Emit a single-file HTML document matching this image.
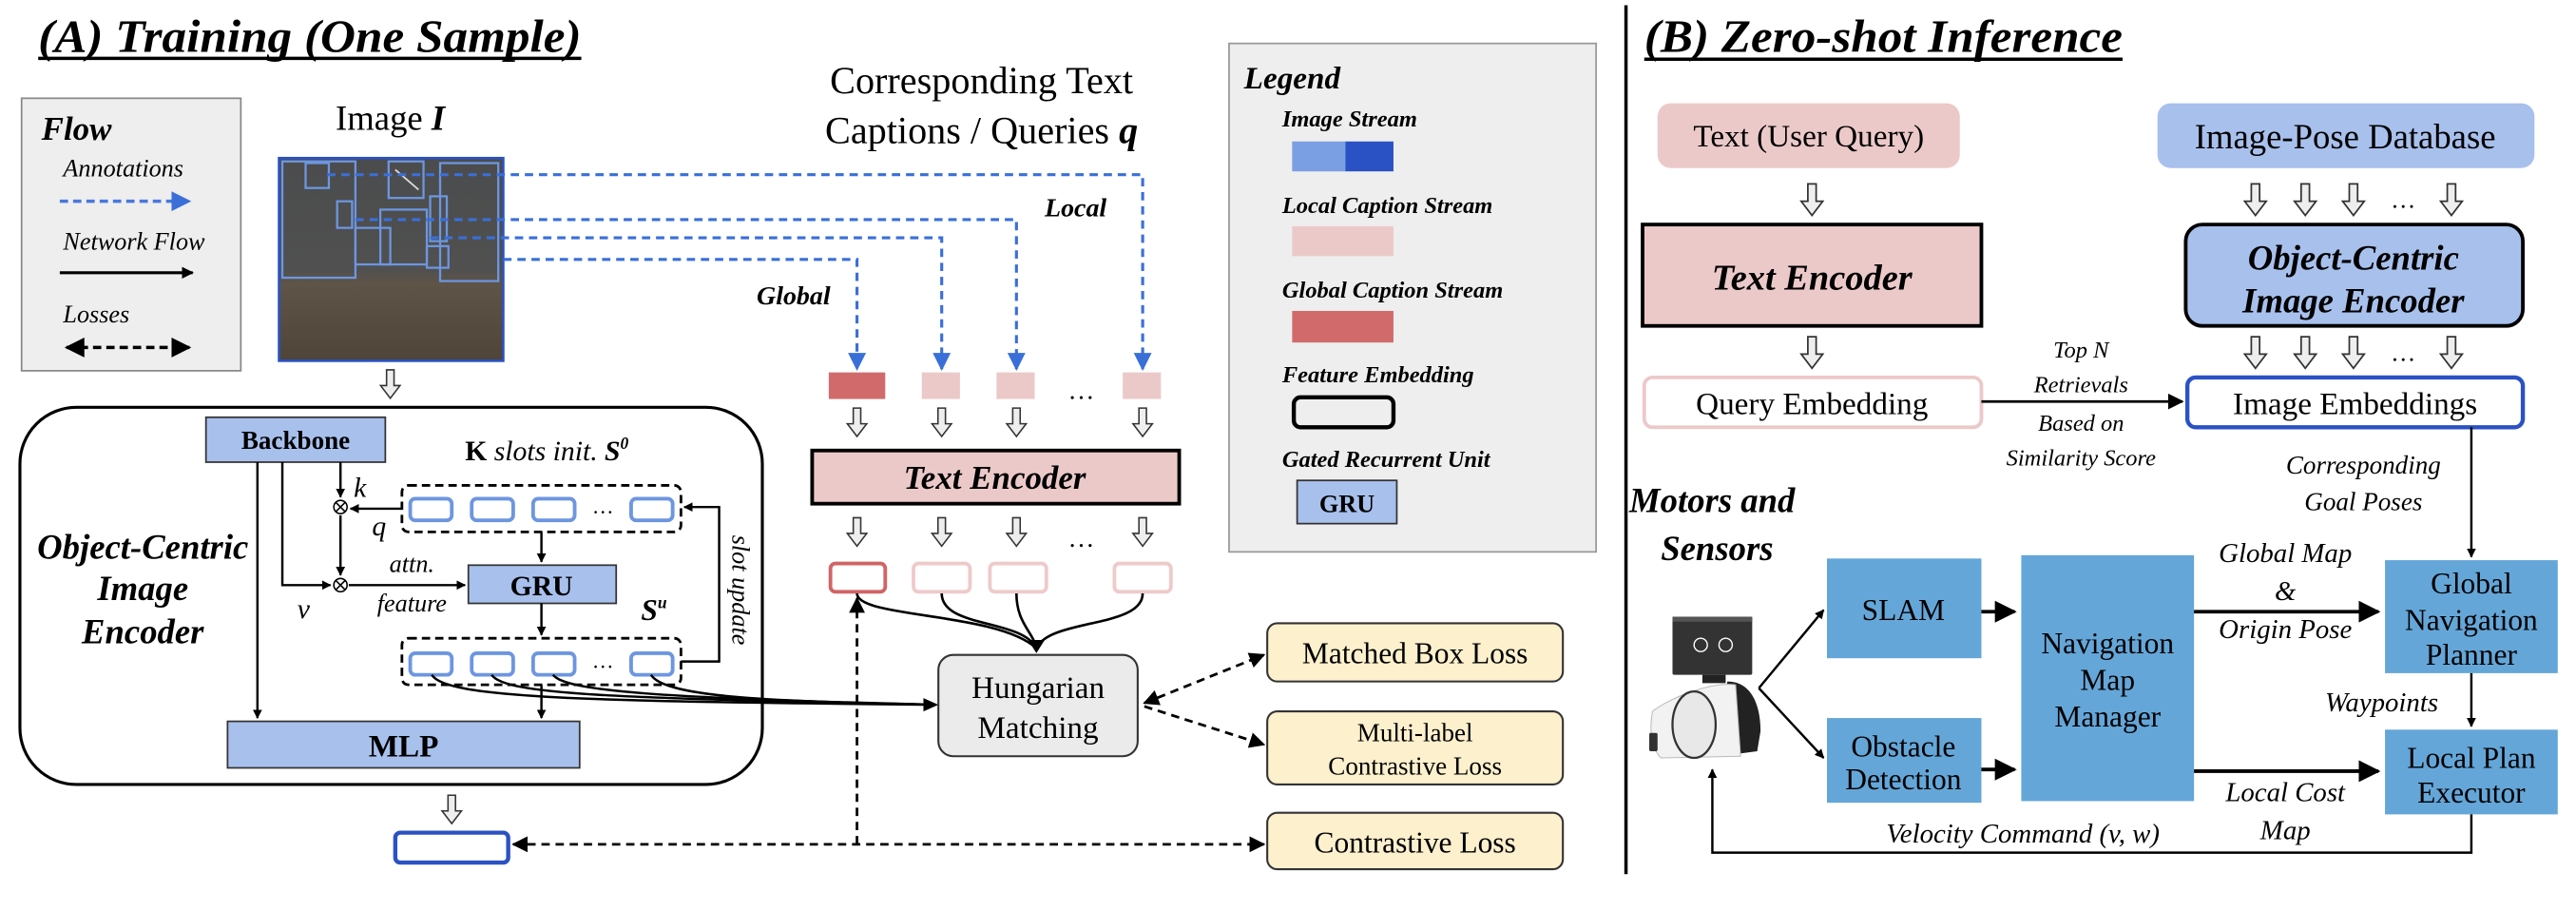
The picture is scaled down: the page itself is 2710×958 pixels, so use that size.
<!DOCTYPE html>
<html><head><meta charset="utf-8"><style>
html,body{margin:0;padding:0;background:#fff}
svg{display:block;font-family:"Liberation Serif","DejaVu Serif","Times New Roman",Times,serif}
svg text, svg tspan{font-family:"Liberation Serif","DejaVu Serif","Times New Roman",Times,serif}
.bi{font-weight:bold;font-style:italic}
.i{font-style:italic}
.b{font-weight:bold}
</style></head><body>
<svg width="2710" height="958" viewBox="0 0 1551 548" xmlns="http://www.w3.org/2000/svg" font-family="'Liberation Serif', 'DejaVu Serif', serif">
<defs>
<symbol id="ha" viewBox="0 0 14 20" overflow="visible"><path d="M4.5,0.5 H9.5 V11 H13.5 L7,19.5 L0.5,11 H4.5 Z" fill="#eee" stroke="#333" stroke-width="1"/></symbol>
<marker id="ab" viewBox="0 0 10 10" refX="9" refY="5" markerWidth="6" markerHeight="6" orient="auto-start-reverse"><path d="M0,0 L10,5 L0,10 z" fill="#3a6fd8"/></marker>
<marker id="ak" viewBox="0 0 10 10" refX="9" refY="5" markerWidth="6" markerHeight="6" orient="auto-start-reverse"><path d="M0,0 L10,5 L0,10 z" fill="#000"/></marker>
<marker id="ak2" viewBox="0 0 10 10" refX="9" refY="5" markerWidth="4" markerHeight="4" orient="auto-start-reverse"><path d="M0,0 L10,5 L0,10 z" fill="#000"/></marker>
</defs>

<text x="23" y="31" class="bi" font-size="28" textLength="327" lengthAdjust="spacingAndGlyphs">(A) Training (One Sample)</text>
<line x1="23" y1="35" x2="350" y2="35" stroke="#000" stroke-width="2"/>

<rect x="13" y="59" width="132" height="164" fill="#eee" stroke="#888" stroke-width="1"/>
<text x="25" y="84" class="bi" font-size="20">Flow</text>
<text x="38" y="106" class="i" font-size="15">Annotations</text>
<line x1="36" y1="121" x2="114" y2="121" stroke="#4a78dc" stroke-width="2" stroke-dasharray="5,3" marker-end="url(#ab)"/>
<text x="38" y="150" class="i" font-size="15">Network Flow</text>
<line x1="36" y1="164" x2="116" y2="164" stroke="#000" stroke-width="1.8" marker-end="url(#ak2)"/>
<text x="38" y="194" class="i" font-size="15">Losses</text>
<line x1="40" y1="209" x2="114" y2="209" stroke="#000" stroke-width="2" stroke-dasharray="5,3" marker-start="url(#ak)" marker-end="url(#ak)"/>

<text x="235" y="78" font-size="21" text-anchor="middle">Image <tspan class="bi">I</tspan></text>
<defs><linearGradient id="img" x1="0" y1="0" x2="0" y2="1"><stop offset="0" stop-color="#4b4c4d"/><stop offset="0.55" stop-color="#505050"/><stop offset="0.62" stop-color="#5e5447"/><stop offset="1" stop-color="#4e4438"/></linearGradient></defs>
<rect x="168" y="95" width="135" height="122" fill="url(#img)" stroke="#2b52c4" stroke-width="1.5"/>
<g fill="none" stroke="#6d96e0" stroke-width="1.3">
<rect x="170" y="97" width="44" height="70"/>
<rect x="184" y="98" width="14" height="15"/>
<rect x="234" y="97" width="21" height="22"/>
<rect x="265" y="98" width="35" height="71"/>
<rect x="203" y="121" width="9" height="16"/>
<rect x="229" y="126" width="28" height="33"/>
<rect x="214" y="137" width="21" height="22"/>
<rect x="259" y="118" width="10" height="27"/>
<rect x="257" y="148" width="13" height="13"/>
</g>
<line x1="238" y1="102" x2="252" y2="114" stroke="#ddd" stroke-width="1"/>

<g fill="none" stroke="#3a6fd8" stroke-width="1.8" stroke-dasharray="5,3.5">
<path d="M197,105 H688 V222" marker-end="url(#ab)"/>
<path d="M214,132 H612 V222" marker-end="url(#ab)"/>
<path d="M259,143 H567 V222" marker-end="url(#ab)"/>
<path d="M303,156 H516 V222" marker-end="url(#ab)"/>
</g>
<text x="629" y="130" class="bi" font-size="16">Local</text>
<text x="500" y="183" class="bi" font-size="16" text-anchor="end">Global</text>

<text x="591" y="56" font-size="23" text-anchor="middle">Corresponding Text</text>
<text x="591" y="86" font-size="23" text-anchor="middle">Captions / Queries <tspan class="bi">q</tspan></text>

<rect x="499" y="224" width="34" height="16" fill="#d16b6b"/>
<rect x="555" y="224" width="23" height="16" fill="#ecc9c9"/>
<rect x="600" y="224" width="23" height="16" fill="#ecc9c9"/>
<rect x="676" y="224" width="23" height="16" fill="#ecc9c9"/>
<text x="651" y="240" font-size="16" text-anchor="middle">…</text>
<use href="#ha" x="509" y="245" width="14" height="18"/>
<use href="#ha" x="560" y="245" width="14" height="18"/>
<use href="#ha" x="605" y="245" width="14" height="18"/>
<use href="#ha" x="681" y="245" width="14" height="18"/>

<rect x="489" y="271" width="221" height="32" fill="#ecc9c9" stroke="#000" stroke-width="2.2"/>
<text x="599" y="294" class="bi" font-size="20" text-anchor="middle">Text Encoder</text>

<use href="#ha" x="509" y="311" width="14" height="18"/>
<use href="#ha" x="560" y="311" width="14" height="18"/>
<use href="#ha" x="605" y="311" width="14" height="18"/>
<use href="#ha" x="681" y="311" width="14" height="18"/>
<text x="651" y="329" font-size="16" text-anchor="middle">…</text>

<rect x="500" y="339" width="33" height="17" rx="3" fill="#fff" stroke="#d06565" stroke-width="2.2"/>
<rect x="550" y="339" width="34" height="17" rx="3" fill="#fff" stroke="#efcaca" stroke-width="2.2"/>
<rect x="596" y="339" width="34" height="17" rx="3" fill="#fff" stroke="#efcaca" stroke-width="2.2"/>
<rect x="671" y="339" width="34" height="17" rx="3" fill="#fff" stroke="#efcaca" stroke-width="2.2"/>

<g fill="none" stroke="#000" stroke-width="1.5">
<path d="M516,357 C516,372 600,368 624,390"/>
<path d="M567,357 C567,378 615,372 624,390"/>
<path d="M612,357 C612,375 622,380 624,390"/>
<path d="M688,357 C688,378 632,372 624,390"/>
</g>
<path d="M619,385 L624,393 L629,385 z" fill="#000"/>

<rect x="565" y="394" width="120" height="61" rx="9" fill="#ebebeb" stroke="#333" stroke-width="1.2"/>
<text x="625" y="420" font-size="19" text-anchor="middle">Hungarian</text>
<text x="625" y="444" font-size="19" text-anchor="middle">Matching</text>

<rect x="763" y="375" width="178" height="35" rx="6" fill="#fcf0cd" stroke="#333" stroke-width="1.2"/>
<text x="852" y="399" font-size="18" text-anchor="middle">Matched Box Loss</text>
<rect x="763" y="428" width="178" height="44" rx="6" fill="#fcf0cd" stroke="#333" stroke-width="1.2"/>
<text x="852" y="446" font-size="15.5" text-anchor="middle">Multi-label</text>
<text x="852" y="466" font-size="15.5" text-anchor="middle">Contrastive Loss</text>
<rect x="763" y="489" width="178" height="34" rx="6" fill="#fcf0cd" stroke="#333" stroke-width="1.2"/>
<text x="852" y="513" font-size="18" text-anchor="middle">Contrastive Loss</text>

<g fill="none" stroke="#000" stroke-width="1.6" stroke-dasharray="5,3.5">
<path d="M689,423 L761,394" marker-start="url(#ak)" marker-end="url(#ak)"/>
<path d="M689,425 L761,448" marker-end="url(#ak)"/>
<path d="M309,508 H761" marker-start="url(#ak)" marker-end="url(#ak)"/>
<path d="M516,508 V360" marker-end="url(#ak)"/>
</g>

<use href="#ha" x="228" y="222" width="14" height="18"/>
<rect x="12" y="245" width="447" height="227" rx="34" fill="none" stroke="#000" stroke-width="1.8"/>
<rect x="124" y="251" width="108" height="27" fill="#a8c0ec" stroke="#333" stroke-width="1"/>
<text x="178" y="270" class="b" font-size="15.5" text-anchor="middle">Backbone</text>
<text x="280" y="277" font-size="17"><tspan class="b">K</tspan><tspan class="i"> slots init. </tspan><tspan class="bi">S</tspan><tspan class="bi" font-size="10" dy="-7">0</tspan></text>

<text x="86" y="336" class="bi" font-size="21" text-anchor="middle">Object-Centric</text>
<text x="86" y="361" class="bi" font-size="21" text-anchor="middle">Image</text>
<text x="86" y="387" class="bi" font-size="21" text-anchor="middle">Encoder</text>

<rect x="242" y="292" width="168" height="28" rx="4" fill="none" stroke="#000" stroke-width="1.6" stroke-dasharray="5,3"/>
<rect x="242" y="384" width="168" height="28" rx="4" fill="none" stroke="#000" stroke-width="1.6" stroke-dasharray="5,3"/>
<g fill="#fff" stroke="#6d96e0" stroke-width="2.2">
<rect x="247" y="300" width="25" height="13" rx="3"/><rect x="284" y="300" width="25" height="13" rx="3"/><rect x="321" y="300" width="25" height="13" rx="3"/><rect x="380" y="300" width="25" height="13" rx="3"/>
<rect x="247" y="393" width="25" height="13" rx="3"/><rect x="284" y="393" width="25" height="13" rx="3"/><rect x="321" y="393" width="25" height="13" rx="3"/><rect x="380" y="393" width="25" height="13" rx="3"/>
</g>
<text x="363" y="309" font-size="13" text-anchor="middle">…</text>
<text x="363" y="402" font-size="13" text-anchor="middle">…</text>

<rect x="282" y="340" width="89" height="23" fill="#a8c0ec" stroke="#333" stroke-width="1"/>
<text x="326" y="358" class="b" font-size="17" text-anchor="middle">GRU</text>
<text x="386" y="373" class="bi" font-size="18">S<tspan font-size="10" dy="-7">u</tspan></text>

<rect x="137" y="434" width="212" height="28" fill="#a8c0ec" stroke="#333" stroke-width="1"/>
<text x="243" y="455" class="b" font-size="19" text-anchor="middle">MLP</text>

<g fill="none" stroke="#000" stroke-width="1.4">
<path d="M155,278 V432" marker-end="url(#ak2)"/>
<path d="M170,278 V352 H199" marker-end="url(#ak2)"/>
<path d="M205,278 V299" marker-end="url(#ak2)"/>
<path d="M205,310 V346" marker-end="url(#ak2)"/>
<path d="M242,306 H211" marker-end="url(#ak2)"/>
<path d="M210,352 H280" marker-end="url(#ak2)"/>
<path d="M326,320 V338" marker-end="url(#ak2)"/>
<path d="M326,363 V382" marker-end="url(#ak2)"/>
<path d="M326,412 V432" marker-end="url(#ak2)"/>
<path d="M410,398 H433 V305 H412" marker-end="url(#ak2)"/>
</g>
<g fill="#fff" stroke="#000" stroke-width="0.9">
<circle cx="205" cy="305" r="4"/><path d="M202.2,302.2 L207.8,307.8 M207.8,302.2 L202.2,307.8"/>
<circle cx="205" cy="352" r="4"/><path d="M202.2,349.2 L207.8,354.8 M207.8,349.2 L202.2,354.8"/>
</g>
<text x="213" y="299" class="i" font-size="17">k</text>
<text x="224" y="322" class="i" font-size="17">q</text>
<text x="248" y="344" class="i" font-size="15" text-anchor="middle">attn.</text>
<text x="248" y="368" class="i" font-size="15" text-anchor="middle">feature</text>
<text x="179" y="372" class="i" font-size="17">v</text>
<text x="441" y="355" class="i" font-size="15" text-anchor="middle" transform="rotate(90 441 355)">slot update</text>

<g fill="none" stroke="#000" stroke-width="1.4">
<path d="M260,406 C268,420 350,422 563,424"/>
<path d="M296,406 C304,418 370,420 563,424"/>
<path d="M333,406 C340,416 400,420 563,424"/>
<path d="M392,406 C400,420 470,422 563,424"/>
</g>
<path d="M556,420 L565,424 L556,428 z" fill="#000"/>

<use href="#ha" x="265" y="478" width="14" height="18"/>
<rect x="238" y="501" width="68" height="18" rx="3" fill="#fff" stroke="#2b52c4" stroke-width="2.5"/>

<rect x="740" y="26" width="221" height="306" fill="#eee" stroke="#999" stroke-width="1"/>
<text x="749" y="53" class="bi" font-size="19">Legend</text>
<text x="772" y="76" class="bi" font-size="14">Image Stream</text>
<rect x="778" y="85" width="32" height="18" fill="#7a9fe3"/><rect x="810" y="85" width="29" height="18" fill="#2b52c4"/>
<text x="772" y="128" class="bi" font-size="14">Local Caption Stream</text>
<rect x="778" y="136" width="61" height="18" fill="#ecc9c9"/>
<text x="772" y="179" class="bi" font-size="14">Global Caption Stream</text>
<rect x="778" y="187" width="61" height="19" fill="#d16b6b"/>
<text x="772" y="230" class="bi" font-size="14">Feature Embedding</text>
<rect x="779" y="239" width="60" height="18" rx="4" fill="#eee" stroke="#000" stroke-width="2.5"/>
<text x="772" y="281" class="bi" font-size="14">Gated Recurrent Unit</text>
<rect x="781" y="289" width="60" height="26" fill="#a8c0ec" stroke="#333" stroke-width="1"/>
<text x="811" y="308" class="b" font-size="15" text-anchor="middle">GRU</text>

<line x1="979" y1="3" x2="979" y2="526" stroke="#000" stroke-width="2"/>

<text x="990" y="31" class="bi" font-size="28" textLength="288" lengthAdjust="spacingAndGlyphs">(B) Zero-shot Inference</text>
<line x1="990" y1="35.5" x2="1278" y2="35.5" stroke="#000" stroke-width="2"/>

<rect x="998" y="62" width="182" height="39" rx="8" fill="#ecc9c9"/>
<text x="1089" y="88" font-size="19" text-anchor="middle">Text (User Query)</text>
<rect x="1299" y="62" width="227" height="39" rx="8" fill="#a8c0ec"/>
<text x="1412" y="89" font-size="21" text-anchor="middle">Image-Pose Database</text>

<use href="#ha" x="1084" y="110" width="14" height="20"/>
<use href="#ha" x="1351" y="110" width="14" height="20"/>
<use href="#ha" x="1381" y="110" width="14" height="20"/>
<use href="#ha" x="1410" y="110" width="14" height="20"/>
<use href="#ha" x="1469" y="110" width="14" height="20"/>
<text x="1447" y="125" font-size="15" text-anchor="middle">…</text>

<rect x="989" y="135" width="204" height="61" fill="#ecc9c9" stroke="#000" stroke-width="2.2"/>
<text x="1091" y="174" class="bi" font-size="22" text-anchor="middle">Text Encoder</text>
<rect x="1316" y="135" width="203" height="61" rx="10" fill="#a8c0ec" stroke="#000" stroke-width="2.2"/>
<text x="1417" y="162" class="bi" font-size="21" text-anchor="middle">Object-Centric</text>
<text x="1417" y="188" class="bi" font-size="21" text-anchor="middle">Image Encoder</text>

<use href="#ha" x="1084" y="202" width="14" height="20"/>
<use href="#ha" x="1351" y="202" width="14" height="20"/>
<use href="#ha" x="1381" y="202" width="14" height="20"/>
<use href="#ha" x="1410" y="202" width="14" height="20"/>
<use href="#ha" x="1469" y="202" width="14" height="20"/>
<text x="1447" y="217" font-size="15" text-anchor="middle">…</text>

<rect x="990" y="227" width="203" height="30" rx="5" fill="#fff" stroke="#ecc9c9" stroke-width="2.2"/>
<text x="1091" y="249" font-size="19" text-anchor="middle">Query Embedding</text>
<rect x="1317" y="227" width="202" height="30" rx="5" fill="#fff" stroke="#2b52c4" stroke-width="2.5"/>
<text x="1418" y="249" font-size="19" text-anchor="middle">Image Embeddings</text>
<path d="M1193,241.5 H1314" stroke="#000" stroke-width="1.6" marker-end="url(#ak)" fill="none"/>
<text x="1253" y="215" class="i" font-size="14" text-anchor="middle">Top N</text>
<text x="1253" y="236" class="i" font-size="14" text-anchor="middle">Retrievals</text>
<text x="1253" y="259" class="i" font-size="14" text-anchor="middle">Based on</text>
<text x="1253" y="280" class="i" font-size="14" text-anchor="middle">Similarity Score</text>

<path d="M1488,257 V335" stroke="#000" stroke-width="1.4" fill="none" marker-end="url(#ak2)"/>
<text x="1423" y="285" class="i" font-size="15.5" text-anchor="middle">Corresponding</text>
<text x="1423" y="307" class="i" font-size="15.5" text-anchor="middle">Goal Poses</text>

<text x="981" y="308" class="bi" font-size="21">Motors and</text>
<text x="1000" y="337" class="bi" font-size="21">Sensors</text>

<g fill="#65a6d8">
<rect x="1100" y="336" width="93" height="60"/>
<rect x="1100" y="432" width="93" height="51"/>
<rect x="1217" y="334" width="104" height="148"/>
<rect x="1436" y="337" width="104" height="68"/>
<rect x="1436" y="439" width="104" height="51"/>
</g>
<text x="1146" y="373" font-size="18" text-anchor="middle">SLAM</text>
<text x="1146" y="455" font-size="18" text-anchor="middle">Obstacle</text>
<text x="1146" y="475" font-size="18" text-anchor="middle">Detection</text>
<text x="1269" y="393" font-size="18" text-anchor="middle">Navigation</text>
<text x="1269" y="415" font-size="18" text-anchor="middle">Map</text>
<text x="1269" y="437" font-size="18" text-anchor="middle">Manager</text>
<text x="1488" y="357" font-size="18" text-anchor="middle">Global</text>
<text x="1488" y="379" font-size="18" text-anchor="middle">Navigation</text>
<text x="1488" y="400" font-size="18" text-anchor="middle">Planner</text>
<text x="1488" y="462" font-size="18" text-anchor="middle">Local Plan</text>
<text x="1488" y="483" font-size="18" text-anchor="middle">Executor</text>

<g fill="none" stroke="#000" stroke-width="2.2">
<path d="M1193,368 H1213" marker-end="url(#ak)"/>
<path d="M1193,463 H1213" marker-end="url(#ak)"/>
<path d="M1321,368 H1432" marker-end="url(#ak)"/>
<path d="M1321,464 H1432" marker-end="url(#ak)"/>
</g>
<g fill="none" stroke="#000" stroke-width="1.4">
<path d="M1488,405 V437" marker-end="url(#ak2)"/>
<path d="M1488,490 V513 H1031 V463" marker-end="url(#ak2)"/>
<path d="M1059,414 L1098,367" marker-end="url(#ak2)"/>
<path d="M1059,414 L1098,456" marker-end="url(#ak2)"/>
</g>
<text x="1376" y="338" class="i" font-size="16.5" text-anchor="middle">Global Map</text>
<text x="1376" y="361" class="i" font-size="16.5" text-anchor="middle">&amp;</text>
<text x="1376" y="384" class="i" font-size="16.5" text-anchor="middle">Origin Pose</text>
<text x="1376" y="482" class="i" font-size="16.5" text-anchor="middle">Local Cost</text>
<text x="1376" y="505" class="i" font-size="16.5" text-anchor="middle">Map</text>
<text x="1434" y="428" class="i" font-size="16.5" text-anchor="middle">Waypoints</text>
<text x="1218" y="507" class="i" font-size="16.5" text-anchor="middle">Velocity Command (v, w)</text>

<g>
<rect x="1007" y="371" width="48" height="35" rx="1" fill="#333"/>
<rect x="1007" y="371" width="48" height="3" fill="#555"/>
<circle cx="1024" cy="388" r="4" fill="none" stroke="#fff" stroke-width="0.8"/>
<circle cx="1039" cy="388" r="4" fill="none" stroke="#fff" stroke-width="0.8"/>
<rect x="1025" y="406" width="14" height="5" fill="#222"/>
<path d="M1040,410 C1055,410 1060,425 1060,440 L1058,452 L1035,455 Z" fill="#222"/>
<path d="M995,428 C1005,420 1030,410 1045,412 L1048,455 L1000,456 C994,450 993,438 995,428 Z" fill="#f2f2f2" stroke="#bbb" stroke-width="0.6"/>
<ellipse cx="1020" cy="436" rx="13" ry="20" fill="#e8e8e8" stroke="#333" stroke-width="1.3"/>
<rect x="993" y="441" width="5" height="11" rx="1" fill="#333"/>
</g>
</svg>
</body></html>
